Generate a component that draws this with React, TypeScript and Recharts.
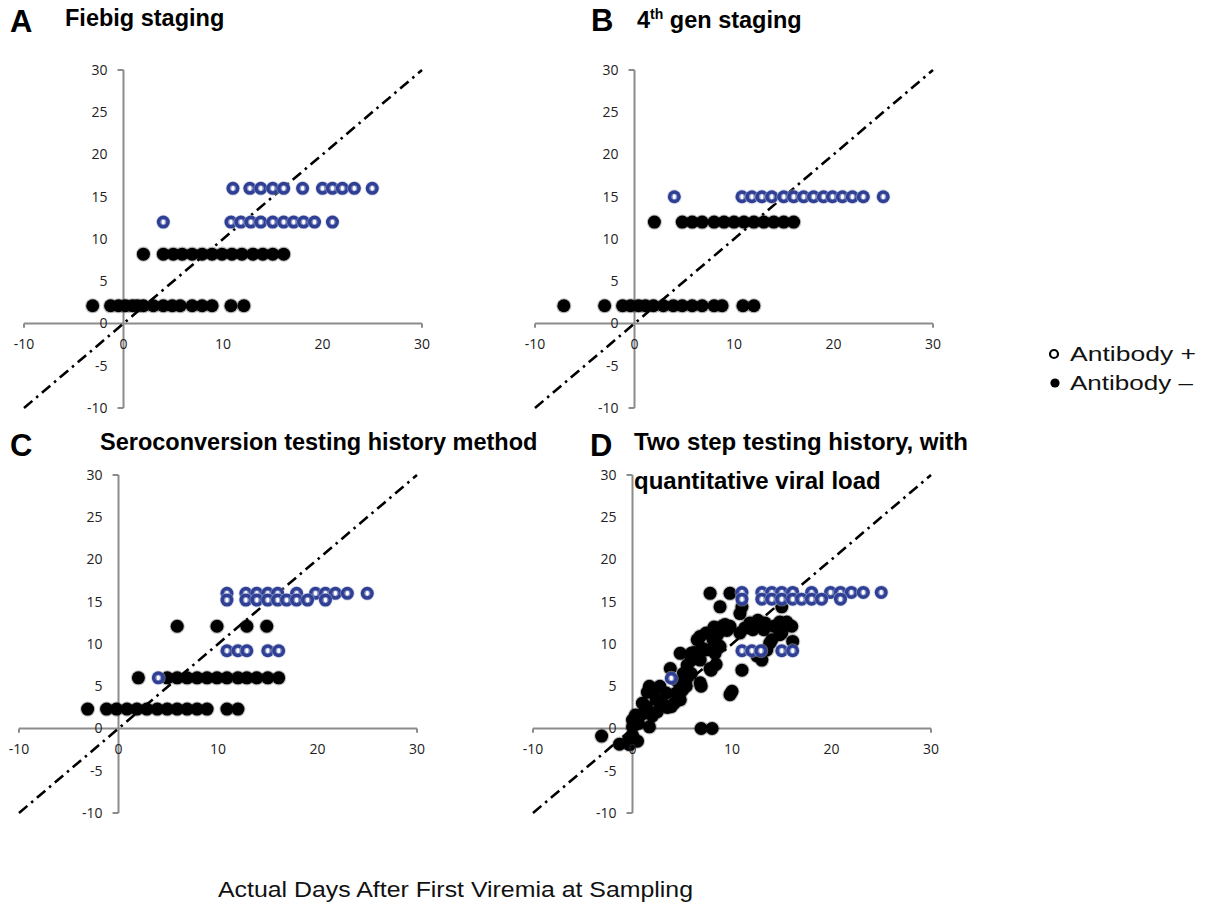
import { ScatterChart, Scatter, XAxis, YAxis, ReferenceLine, ReferenceDot } from 'recharts';

type Pt = [number, number];

// tick values shared by all four panels
const xTicks = [-10, 0, 10, 20, 30];
const yTicks = [-10, -5, 0, 5, 10, 15, 20, 25, 30];
const identityLine = [{ x: -10, y: -10 }, { x: 30, y: 30 }];

// A - Fiebig staging
const fiebigPos: Pt[] = [
  [11, 16], [12.7, 16], [13.8, 16], [15, 16], [16.1, 16], [18, 16], [20, 16], [21, 16], [22, 16], [23.2, 16], [25, 16],
  [4, 12], [10.8, 12], [11.8, 12], [12.8, 12], [13.8, 12], [15, 12], [16.1, 12], [17.1, 12], [18.1, 12], [19.2, 12], [21, 12],
];
const fiebigNeg: Pt[] = [
  [2, 8.2], [4, 8.2], [5, 8.2], [5.9, 8.2], [6.9, 8.2], [7.9, 8.2], [8.9, 8.2], [9.9, 8.2], [10.9, 8.2], [11.9, 8.2], [13, 8.2], [14, 8.2], [15, 8.2], [16.1, 8.2],
  [-3.1, 2.1], [-1.3, 2.1], [-0.5, 2.1], [0.2, 2.1], [0.9, 2.1], [1.4, 2.1], [2, 2.1], [3, 2.1], [4, 2.1], [4.9, 2.1], [5.7, 2.1], [6.9, 2.1], [7.9, 2.1], [8.9, 2.1], [10.8, 2.1], [12.1, 2.1],
];

// B - 4th gen staging
const genPos: Pt[] = [
  [4, 15], [10.8, 15], [11.8, 15], [12.8, 15], [13.8, 15], [15, 15], [16, 15], [17, 15], [18, 15], [19, 15], [19.9, 15], [20.9, 15], [21.9, 15], [23, 15], [25, 15],
];
const genNeg: Pt[] = [
  [2, 12], [4.8, 12], [5.8, 12], [6.8, 12], [8, 12], [9, 12], [10, 12], [11, 12], [12, 12], [13, 12], [14, 12], [15, 12], [16, 12],
  [-7.1, 2.1], [-3, 2.1], [-1.2, 2.1], [-0.4, 2.1], [0.4, 2.1], [1.1, 2.1], [1.9, 2.1], [2.9, 2.1], [3.9, 2.1], [4.8, 2.1], [5.8, 2.1], [6.8, 2.1], [8, 2.1], [8.8, 2.1], [10.9, 2.1], [12, 2.1],
];

// C - Seroconversion testing history method
const seroPos: Pt[] = [
  [10.9, 16], [12.8, 16], [13.9, 16], [15, 16], [16, 16], [17.9, 16], [19.8, 16], [20.8, 16], [21.8, 16], [23, 16], [25, 16],
  [10.9, 15.2], [12.8, 15.2], [13.9, 15.2], [15, 15.2], [16, 15.2], [16.9, 15.2], [17.9, 15.2], [19, 15.2], [20.8, 15.2],
  [10.9, 9.2], [12, 9.2], [12.9, 9.2], [15, 9.2], [16.1, 9.2],
  [4, 6],
];
const seroNeg: Pt[] = [
  [5.9, 12.1], [9.9, 12.1], [12.9, 12.1], [14.9, 12.1],
  [2, 6], [4.9, 6], [5.9, 6], [6.9, 6], [7.9, 6], [8.9, 6], [9.9, 6], [10.9, 6], [12, 6], [12.9, 6], [13.9, 6], [15, 6], [16.1, 6],
  [-3.1, 2.3], [-1.2, 2.3], [-0.2, 2.3], [0.85, 2.3], [1.85, 2.3], [2.85, 2.3], [3.9, 2.3], [4.9, 2.3], [5.9, 2.3], [6.9, 2.3], [7.9, 2.3], [8.9, 2.3], [10.9, 2.3], [12, 2.3],
];

// D - Two step testing history, with quantitative viral load
const twoStepPos: Pt[] = [
  [11, 16.1], [13, 16.1], [14, 16.1], [15, 16.1], [16.1, 16.1], [18, 16.1], [19.9, 16.1], [20.9, 16.1], [22, 16.1], [23.2, 16.1], [25, 16.1],
  [11, 15.3], [13, 15.3], [14, 15.3], [15, 15.3], [16.1, 15.3], [17, 15.3], [18, 15.3], [19, 15.3], [20.9, 15.3],
  [11, 9.2], [12, 9.2], [12.9, 9.2], [15, 9.2], [16.1, 9.2],
  [3.9, 5.95],
];
const twoStepNeg: Pt[] = [
  [-3.1, -0.9], [-1.3, -1.85], [-0.3, -1.9], [0, 1], [0, 0.2], [0, -0.8], [0.6, 0.6], [1.1, 1.8], [1.7, 0.2], [1.4, 2.6],
  [2.1, 4.2], [1.7, 5], [2.75, 5], [2.4, 3.4], [3.4, 4.2], [3.8, 7.1], [3.9, 2.6], [4.4, 4.2], [4.8, 8.9], [5.1, 6.5],
  [5.4, 5], [4.8, 3.4], [5.9, 8.9], [5.9, 6.5], [5.9, 8.1], [5.5, 7.5], [6.8, 10.9], [6.8, 8.1], [6.9, 5], [6.9, 0],
  [8, 0], [7.8, 16], [7.9, 6.9], [8.1, 10.5], [8.3, 8.9], [8.8, 14.4], [9, 12.1], [8.8, 9.7], [9.8, 16], [9.8, 12.1],
  [9.8, 4], [10.8, 13.6], [10.8, 11.3], [11, 6.9], [11, 14.4], [11.8, 12.5], [12.1, 11.7], [12.6, 12.8], [13.2, 11.7], [13, 8.1],
  [13.8, 10.1], [14.2, 12.1], [15, 14.4], [15, 11.3], [16, 12.1], [16.1, 10.3], [7.4, 11.3], [7.4, 9.3], [11.3, 11.9], [13.3, 12.5],
  [14.8, 12.6], [14.8, 11.1], [9.3, 12.3], [7.8, 7.1], [10, 4.4], [6.8, 5.4],
  [2.5, 2], [3, 3], [3.5, 2.5], [4.2, 3], [5, 4.5], [5.5, 6], [6.2, 9], [6.5, 10.5], [7, 9.5], [8.5, 10],
  [8.6, 11.2], [8.2, 12], [9.5, 11.6], [1, 3], [2, 1.5], [0.5, -1.5], [-0.5, -1.6], [12.5, 8.6], [13.5, 9.3], [14, 10.5],
  [15.5, 12.6], [8.4, 7.6], [0.3, 1.6], [1.5, 4.3], [4.5, 5.6],
];

const toPoints = (pts: Pt[]) => pts.map(([x, y]) => ({ x, y }));

const tickStyle = { fill: '#222', fontSize: 14, fontFamily: '"Open Sans", sans-serif' };

const PosDot = (p: any) => (
  <g>
    <circle cx={p.cx} cy={p.cy} r={7.4} fill="#b8bfdc" opacity={0.5} />
    <circle cx={p.cx} cy={p.cy} r={6.5} fill="#2f3f94" />
    <circle cx={p.cx} cy={p.cy} r={3} fill="#8d98c9" />
    <ellipse cx={p.cx} cy={p.cy} rx={1.6} ry={2.4} fill="#fff" />
  </g>
);

const NegDot = (p: any) => (
  <g>
    <circle cx={p.cx} cy={p.cy} r={7.6} fill="#000" opacity={0.25} />
    <circle cx={p.cx} cy={p.cy} r={6.5} fill="#000" />
  </g>
);

interface PanelProps {
  left: number;
  top: number;
  pos: Pt[];
  neg: Pt[];
}

const Panel = ({ left, top, pos, neg }: PanelProps) => (
  <div style={{ position: 'absolute', left: left - 20, top: top - 20 }}>
    <ScatterChart width={438} height={378} margin={{ top: 20, right: 20, bottom: 20, left: 20 }}>
      <XAxis type="number" dataKey="x" domain={[-10, 30]} hide />
      <YAxis type="number" dataKey="y" domain={[-10, 30]} hide />
      <ReferenceLine y={0} stroke="#8c8c8c" strokeWidth={2} />
      <ReferenceLine x={0} stroke="#8c8c8c" strokeWidth={2} />
      <ReferenceLine segment={[{ x: -10, y: 0 }, { x: -10, y: -0.5 }]} stroke="#8c8c8c" strokeWidth={2} />
      <ReferenceLine segment={[{ x: 30, y: 0 }, { x: 30, y: -0.5 }]} stroke="#8c8c8c" strokeWidth={2} />
      <ReferenceLine segment={[{ x: -0.6, y: 30 }, { x: 0, y: 30 }]} stroke="#8c8c8c" strokeWidth={2} />
      <ReferenceLine segment={[{ x: -0.6, y: -10 }, { x: 0, y: -10 }]} stroke="#8c8c8c" strokeWidth={2} />
      {xTicks.map((t) => (
        <ReferenceDot key={'x' + t} x={t} y={0} r={0} stroke="none" fill="none"
          label={{ value: String(t), position: 'bottom', offset: 16, ...tickStyle }} />
      ))}
      {yTicks.map((t) => (
        <ReferenceDot key={'y' + t} x={0} y={t} r={0} stroke="none" fill="none"
          label={{ value: String(t), position: 'left', offset: 16, ...tickStyle }} />
      ))}
      <Scatter data={toPoints(neg)} shape={NegDot} isAnimationActive={false} />
      <Scatter data={toPoints(pos)} shape={PosDot} isAnimationActive={false} />
      <ReferenceLine segment={identityLine} stroke="#000" strokeWidth={2.6} strokeDasharray="11 5 2.5 5" />
    </ScatterChart>
  </div>
);

const bold = { fontFamily: '"Liberation Sans", Arial, sans-serif', fontWeight: 700, fill: '#000' };
const plain = { fontFamily: '"Liberation Sans", Arial, sans-serif', fill: '#111' };

export default function App() {
  return (
    <div style={{ position: 'absolute', left: 0, top: 0, width: 1211, height: 905, background: '#fff' }}>
      <svg width={1211} height={905} style={{ position: 'absolute', left: 0, top: 0 }}>
        <text x={10} y={32} fontSize={31} {...bold}>A</text>
        <text x={65} y={26} fontSize={23.5} {...bold}>Fiebig staging</text>
        <text x={591} y={31} fontSize={31} {...bold}>B</text>
        <text x={637} y={28} fontSize={23.5} {...bold}>
          4<tspan dy={-9} fontSize={14}>th</tspan><tspan dy={9}> gen staging</tspan>
        </text>
        <text x={10} y={456} fontSize={31} {...bold}>C</text>
        <text x={100} y={450} fontSize={23.5} {...bold}>Seroconversion testing history method</text>
        <text x={590} y={456} fontSize={31} {...bold}>D</text>
        <text x={634} y={450} fontSize={24} {...bold}>Two step testing history, with</text>
        <text x={634} y={489} fontSize={24} {...bold}>quantitative viral load</text>

        <circle cx={1054} cy={354} r={4} fill="#fff" stroke="#000" strokeWidth={2.2} />
        <text x={1070} y={361} fontSize={21} textLength={126} lengthAdjust="spacingAndGlyphs" {...plain}>Antibody +</text>
        <circle cx={1055} cy={383} r={4.6} fill="#000" />
        <text x={1070} y={390} fontSize={21} textLength={123} lengthAdjust="spacingAndGlyphs" {...plain}>Antibody –</text>

        <text x={218} y={897} fontSize={22} textLength={475} lengthAdjust="spacingAndGlyphs" {...plain}>
          Actual Days After First Viremia at Sampling
        </text>
      </svg>
      <Panel left={24} top={70} pos={fiebigPos} neg={fiebigNeg} />
      <Panel left={535} top={70} pos={genPos} neg={genNeg} />
      <Panel left={19} top={475} pos={seroPos} neg={seroNeg} />
      <Panel left={533} top={475} pos={twoStepPos} neg={twoStepNeg} />
    </div>
  );
}
